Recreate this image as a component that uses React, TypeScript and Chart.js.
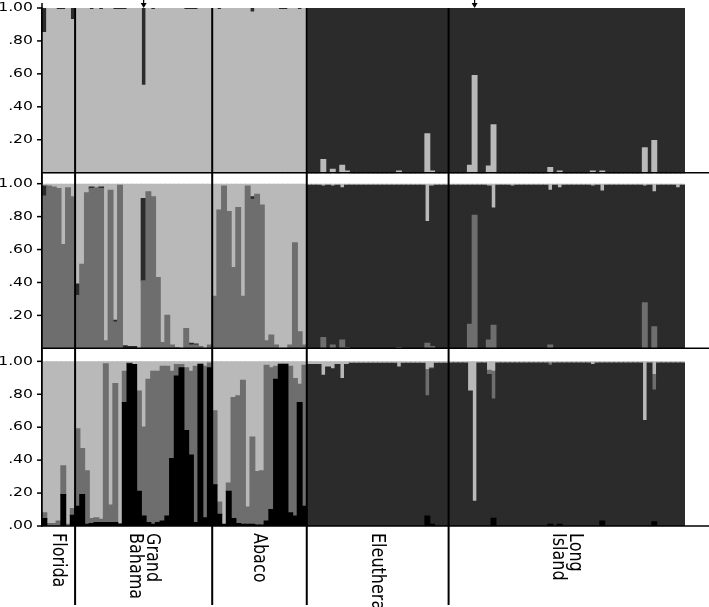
import React, { useEffect, useRef } from 'react';
import { Chart, registerables } from 'chart.js';
Chart.register(...registerables);

// ---------- data ----------
const popLabelLines = [['Florida'], ['Grand', 'Bahama'], ['Abaco'], ['Eleuthera'], ['Long', 'Island']];
const popSizes = [7, 29, 20, 30, 50];
const yTicksUpper = [0.2, 0.4, 0.6, 0.8, 1.0];
const yTicksLower = [0, 0.2, 0.4, 0.6, 0.8, 1.0];
const arrowIndividuals = [21, 91];

// K = 2 : light-grey cluster (bottom), dark cluster is the remainder (top)
const k2LightFlorida = [0.85, 1, 1, 0.99, 0.99, 1, 0.93];
const k2LightGrandBahama = [1, 1, 1, 0.99, 1, 0.99, 1, 1, 0.99, 0.99, 0.99, 1, 1, 1, 0.53, 1, 0.99, 1, 1, 1, 1, 1, 1, 0.99, 0.99, 0.99, 1, 1, 1];
const k2LightAbaco = [1, 0.99, 1, 1, 1, 1, 1, 1, 0.975, 1, 1, 1, 1, 1, 0.99, 0.99, 1, 1, 0.99, 1];
const k2LightEleuthera = [0, 0, 0, 0.08, 0, 0.02, 0, 0.045, 0.01, 0, 0, 0, 0, 0, 0, 0, 0, 0, 0, 0.01, 0, 0, 0, 0, 0, 0.235, 0.01, 0, 0, 0];
const k2LightLongIsland = [
  0, 0, 0, 0, 0.045, 0.59, 0, 0, 0.04, 0.29,
  0, 0, 0, 0, 0, 0, 0, 0, 0, 0,
  0, 0.03, 0, 0.01, 0, 0, 0, 0, 0, 0,
  0.01, 0, 0.01, 0, 0, 0, 0, 0, 0, 0,
  0, 0.15, 0, 0.195, 0, 0, 0, 0, 0, 0];

// K = 3 : medium (bottom), dark (middle), light = remainder (top)
const k3MediumFlorida = [0.925, 0.985, 0.98, 0.97, 0.63, 0.975, 0.92];
const k3MediumGrandBahama = [0.32, 0.51, 0.945, 0.97, 0.975, 0.97, 0.045, 0.96, 0.16, 0.99, 0, 0, 0, 0, 0.41, 0.95, 0.92, 0.43, 0.035, 0.2, 0.02, 0.005, 0, 0.12, 0.02, 0.02, 0.01, 0, 0.02];
const k3MediumAbaco = [0.315, 0.84, 0.985, 0.83, 0.49, 0.855, 0.315, 0.985, 0.905, 0.935, 0.87, 0.045, 0.08, 0.02, 0, 0, 0.02, 0.64, 0.1, 0.02];
const k3MediumEleuthera = [0, 0, 0, 0.065, 0, 0.02, 0, 0.05, 0.005, 0, 0, 0, 0, 0, 0, 0, 0, 0, 0, 0.005, 0, 0, 0, 0, 0, 0.03, 0.01, 0, 0, 0];
const k3MediumLongIsland = [
  0, 0, 0, 0, 0.146, 0.807, 0, 0, 0.05, 0.14,
  0, 0, 0, 0, 0, 0, 0, 0, 0, 0,
  0, 0.02, 0, 0, 0, 0, 0, 0, 0, 0,
  0, 0, 0, 0, 0, 0, 0, 0, 0, 0,
  0, 0.276, 0, 0.13, 0, 0, 0, 0, 0, 0];
const k3DarkFlorida = [0.06, 0, 0, 0, 0, 0, 0];
const k3DarkGrandBahama = [0.07, 0, 0, 0.01, 0, 0.01, 0, 0, 0.01, 0, 0.015, 0.01, 0.01, 0, 0.5, 0, 0, 0, 0, 0, 0, 0, 0, 0, 0.01, 0.005, 0, 0, 0];
const k3DarkAbaco = [0, 0, 0, 0, 0, 0, 0, 0, 0.015, 0, 0, 0, 0, 0, 0, 0, 0, 0, 0, 0];
const k3DarkEleuthera = [
  0.99, 0.99, 0.99, 0.92, 0.99, 0.965, 0.99, 0.925, 0.985, 0.99,
  0.99, 0.99, 0.99, 0.99, 0.99, 0.99, 0.99, 0.99, 0.99, 0.985,
  0.99, 0.99, 0.99, 0.99, 0.99, 0.74, 0.975, 0.99, 0.99, 0.99];
const k3DarkLongIsland = [
  0.99, 0.99, 0.99, 0.99, 0.844, 0.183, 0.99, 0.99, 0.935, 0.712,
  0.99, 0.99, 0.99, 0.985, 0.99, 0.99, 0.99, 0.99, 0.99, 0.99,
  0.99, 0.94, 0.99, 0.975, 0.99, 0.99, 0.99, 0.99, 0.99, 0.99,
  0.985, 0.99, 0.955, 0.99, 0.99, 0.99, 0.99, 0.99, 0.99, 0.99,
  0.99, 0.709, 0.99, 0.82, 0.99, 0.99, 0.99, 0.99, 0.975, 0.99];

// K = 4 : black (bottom), dark, medium, light = remainder (top)
const k4BlackFlorida = [0.045, 0, 0, 0, 0.19, 0, 0.065];
const k4BlackGrandBahama = [0.12, 0.19, 0.01, 0.015, 0.02, 0.02, 0.02, 0.02, 0.02, 0.01, 0.75, 0.985, 0.98, 0.21, 0.06, 0.02, 0.01, 0.02, 0.03, 0.06, 0.41, 0.91, 0.96, 0.58, 0.43, 0.02, 0.98, 0.05, 0.96];
const k4BlackAbaco = [0.25, 0.07, 0.01, 0.21, 0.045, 0.015, 0.01, 0.01, 0.01, 0.005, 0.005, 0.03, 0.1, 0.89, 0.98, 0.98, 0.08, 0.06, 0.75, 0.12];
const k4BlackEleuthera = [0, 0, 0, 0, 0, 0, 0, 0, 0, 0, 0, 0, 0, 0, 0, 0, 0, 0, 0, 0, 0, 0, 0, 0, 0, 0.06, 0.01, 0, 0, 0];
const k4BlackLongIsland = [
  0, 0, 0, 0, 0, 0, 0, 0, 0, 0.047,
  0, 0, 0, 0, 0, 0, 0, 0, 0, 0,
  0, 0.01, 0, 0.01, 0, 0, 0, 0, 0, 0,
  0, 0, 0.03, 0, 0, 0, 0, 0, 0, 0,
  0, 0, 0, 0.025, 0, 0, 0, 0, 0, 0];
const k4DarkFlorida = [0, 0, 0, 0, 0, 0, 0];
const k4DarkGrandBahama = new Array(29).fill(0);
const k4DarkAbaco = new Array(20).fill(0);
const k4DarkEleuthera = [
  0.98, 0.98, 0.98, 0.915, 0.965, 0.955, 0.98, 0.895, 0.98, 0.988,
  0.988, 0.988, 0.988, 0.988, 0.988, 0.988, 0.988, 0.988, 0.988, 0.965,
  0.988, 0.988, 0.988, 0.988, 0.988, 0.73, 0.945, 0.988, 0.988, 0.988];
const k4DarkLongIsland = [
  0.99, 0.99, 0.99, 0.99, 0.82, 0.15, 0.99, 0.99, 0.92, 0.723,
  0.99, 0.99, 0.99, 0.99, 0.99, 0.99, 0.99, 0.99, 0.99, 0.99,
  0.99, 0.965, 0.99, 0.98, 0.99, 0.99, 0.99, 0.99, 0.99, 0.99,
  0.98, 0.99, 0.96, 0.99, 0.99, 0.99, 0.99, 0.99, 0.99, 0.99,
  0.99, 0.64, 0.99, 0.8, 0.99, 0.99, 0.99, 0.99, 0.99, 0.99];
const k4MediumFlorida = [0.035, 0.015, 0.015, 0.03, 0.175, 0.01, 0.04];
const k4MediumGrandBahama = [0.47, 0.28, 0.325, 0.03, 0.03, 0.02, 0.965, 0.107, 0.845, 0.005, 0.19, 0.005, 0, 0.61, 0.54, 0.87, 0.93, 0.92, 0.94, 0.91, 0.53, 0.07, 0.02, 0.38, 0.51, 0.95, 0.005, 0.92, 0.03];
const k4MediumAbaco = [0.45, 0.075, 0, 0.05, 0.735, 0.775, 0.875, 0.105, 0.53, 0.325, 0.33, 0.945, 0.86, 0.08, 0.005, 0.005, 0.89, 0.835, 0.11, 0.855];
const k4MediumEleuthera = [0, 0, 0, 0, 0, 0, 0, 0, 0, 0, 0, 0, 0, 0, 0, 0, 0, 0, 0, 0, 0, 0, 0, 0, 0, 0.16, 0.005, 0, 0, 0];
const k4MediumLongIsland = [
  0, 0, 0, 0, 0, 0, 0, 0, 0.025, 0.17,
  0, 0, 0, 0, 0, 0, 0, 0, 0, 0,
  0, 0.015, 0, 0, 0, 0, 0, 0, 0, 0,
  0, 0, 0, 0, 0, 0, 0, 0, 0, 0,
  0, 0, 0, 0.095, 0, 0, 0, 0, 0, 0];

// ---------- helpers ----------
const COLORS = { light: '#b9b9b9', dark: '#2b2b2b', medium: '#6e6e6e', black: '#000000' };
const join = (...parts: number[][]) => parts.flat();
const k2Light = join(k2LightFlorida, k2LightGrandBahama, k2LightAbaco, k2LightEleuthera, k2LightLongIsland);
const k3Medium = join(k3MediumFlorida, k3MediumGrandBahama, k3MediumAbaco, k3MediumEleuthera, k3MediumLongIsland);
const k3Dark = join(k3DarkFlorida, k3DarkGrandBahama, k3DarkAbaco, k3DarkEleuthera, k3DarkLongIsland);
const k4Black = join(k4BlackFlorida, k4BlackGrandBahama, k4BlackAbaco, k4BlackEleuthera, k4BlackLongIsland);
const k4Dark = join(k4DarkFlorida, k4DarkGrandBahama, k4DarkAbaco, k4DarkEleuthera, k4DarkLongIsland);
const k4Medium = join(k4MediumFlorida, k4MediumGrandBahama, k4MediumAbaco, k4MediumEleuthera, k4MediumLongIsland);
const N = k2Light.length;
const remainder = (...arrs: number[][]) => arrs[0].map((_, i) => Math.max(0, 1 - arrs.reduce((s, a) => s + a[i], 0)));
const nz = (arr: number[]) => arr.map((v) => (v > 0.0005 ? v : null));
const k2Dark = remainder(k2Light);
const k3Light = remainder(k3Medium, k3Dark);
const k4Light = remainder(k4Black, k4Dark, k4Medium);

const fmt = (v: number) => (v >= 1 ? '1.00' : '.' + String(Math.round(v * 100)).padStart(2, '0'));

const FONT = '"DejaVu Sans", Verdana, sans-serif';
const TEXT_STRETCH = 1.25; // the original figure is wider than tall

const yScale = (min: number, weight: number, ticks: number[]) => ({
  type: 'linear',
  position: 'left',
  stack: 'panels',
  stackWeight: weight,
  stacked: true,
  min,
  max: 1,
  afterBuildTicks: (s: any) => { s.ticks = ticks.map((v) => ({ value: v })); },
  afterFit: (s: any) => { s.width = 42; },
  grid: { display: false },
  border: { display: true, color: '#000', width: 1.5 },
  ticks: { display: false, autoSkip: false },
});

const decorations = {
  id: 'decorations',
  afterDraw(chart: any) {
    const { ctx, chartArea, scales } = chart;
    const xs = scales.x;
    const bw = (chartArea.right - chartArea.left) / N;
    const edge = (i: number) => xs.getPixelForValue(i) - bw / 2;
    ctx.save();
    ctx.strokeStyle = '#000';
    ctx.fillStyle = '#000';
    ctx.lineWidth = 1.5;
    ['yK2', 'yK3', 'yK4'].forEach((id) => {
      const y = scales[id].getPixelForValue(0);
      ctx.beginPath();
      ctx.moveTo(chartArea.left, y);
      ctx.lineTo(chart.width, y);
      ctx.stroke();
    });
    ctx.beginPath();
    ctx.moveTo(chartArea.left, 3);
    ctx.lineTo(chartArea.left, chartArea.bottom);
    ctx.stroke();
    // y tick marks and labels (labels horizontally stretched like the original)
    ctx.font = '12.5px ' + FONT;
    ctx.textAlign = 'right';
    ctx.textBaseline = 'middle';
    ['yK2', 'yK3', 'yK4'].forEach((id) => {
      const sc = scales[id];
      sc.ticks.forEach((t: any) => {
        const y = sc.getPixelForValue(t.value);
        ctx.lineWidth = 1.5;
        ctx.beginPath();
        ctx.moveTo(chartArea.left - 5, y);
        ctx.lineTo(chartArea.left, y);
        ctx.stroke();
        ctx.save();
        ctx.translate(chartArea.left - 9, y);
        ctx.scale(TEXT_STRETCH, 1);
        ctx.fillText(fmt(t.value), 0, 0);
        ctx.restore();
      });
    });
    // population separators
    ctx.lineWidth = 2;
    let cum = 0;
    popSizes.slice(0, -1).forEach((s) => {
      cum += s;
      const x = edge(cum);
      ctx.beginPath();
      ctx.moveTo(x, chartArea.top);
      ctx.lineTo(x, chart.height - 2);
      ctx.stroke();
    });
    // arrows
    ctx.lineWidth = 1.2;
    arrowIndividuals.forEach((i) => {
      const x = xs.getPixelForValue(i);
      ctx.beginPath();
      ctx.moveTo(x, 0);
      ctx.lineTo(x, chartArea.top - 3);
      ctx.stroke();
      ctx.beginPath();
      ctx.moveTo(x - 3, chartArea.top - 5);
      ctx.lineTo(x + 3, chartArea.top - 5);
      ctx.lineTo(x, chartArea.top);
      ctx.closePath();
      ctx.fill();
    });
    // population labels (rotated clockwise)
    ctx.font = '16px ' + FONT;
    ctx.textAlign = 'left';
    ctx.textBaseline = 'middle';
    let start = 0;
    popSizes.forEach((s, p) => {
      const cx = (edge(start) + edge(start + s)) / 2;
      const lines = popLabelLines[p];
      const lh = 16.5;
      lines.forEach((line, li) => {
        const lx = cx + ((lines.length - 1) / 2 - li) * lh;
        ctx.save();
        ctx.translate(lx, chartArea.bottom + 7);
        ctx.rotate(Math.PI / 2);
        ctx.scale(1, TEXT_STRETCH);
        ctx.fillText(line, 0, 0);
        ctx.restore();
      });
      start += s;
    });
    ctx.restore();
  },
};

export default function App() {
  const ref = useRef<HTMLCanvasElement>(null);
  useEffect(() => {
    if (!ref.current) return;
    const labels = k2Light.map((_, i) => String(i + 1));
    const ds = (data: number[], color: string, yAxisID: string) => ({
      data: nz(data),
      backgroundColor: color,
      borderWidth: 0,
      inflateAmount: 0.6,
      yAxisID,
      barPercentage: 1,
      categoryPercentage: 1,
    });
    const chart = new Chart(ref.current, {
      type: 'bar',
      data: {
        labels,
        datasets: [
          ds(k2Light, COLORS.light, 'yK2'),
          ds(k2Dark, COLORS.dark, 'yK2'),
          ds(k3Medium, COLORS.medium, 'yK3'),
          ds(k3Dark, COLORS.dark, 'yK3'),
          ds(k3Light, COLORS.light, 'yK3'),
          ds(k4Black, COLORS.black, 'yK4'),
          ds(k4Dark, COLORS.dark, 'yK4'),
          ds(k4Medium, COLORS.medium, 'yK4'),
          ds(k4Light, COLORS.light, 'yK4'),
        ] as any,
      },
      options: {
        animation: false,
        responsive: false,
        devicePixelRatio: 1,
        layout: { padding: { left: 0, right: 24, top: 8, bottom: 81 } },
        plugins: { legend: { display: false }, tooltip: { enabled: false } },
        scales: {
          x: { type: 'category', display: false, stacked: true },
          yK4: yScale(0, 1.0, yTicksLower),
          yK3: yScale(-0.079, 1.079, yTicksUpper),
          yK2: yScale(-0.067, 1.067, yTicksUpper),
        } as any,
      },
      plugins: [decorations],
    });
    return () => chart.destroy();
  }, []);
  return (
    <div style={{ position: 'absolute', left: 0, top: 0, width: 709, height: 607, background: '#fff' }}>
      <canvas ref={ref} width={709} height={607} style={{ display: 'block', width: 709, height: 607 }} />
    </div>
  );
}
